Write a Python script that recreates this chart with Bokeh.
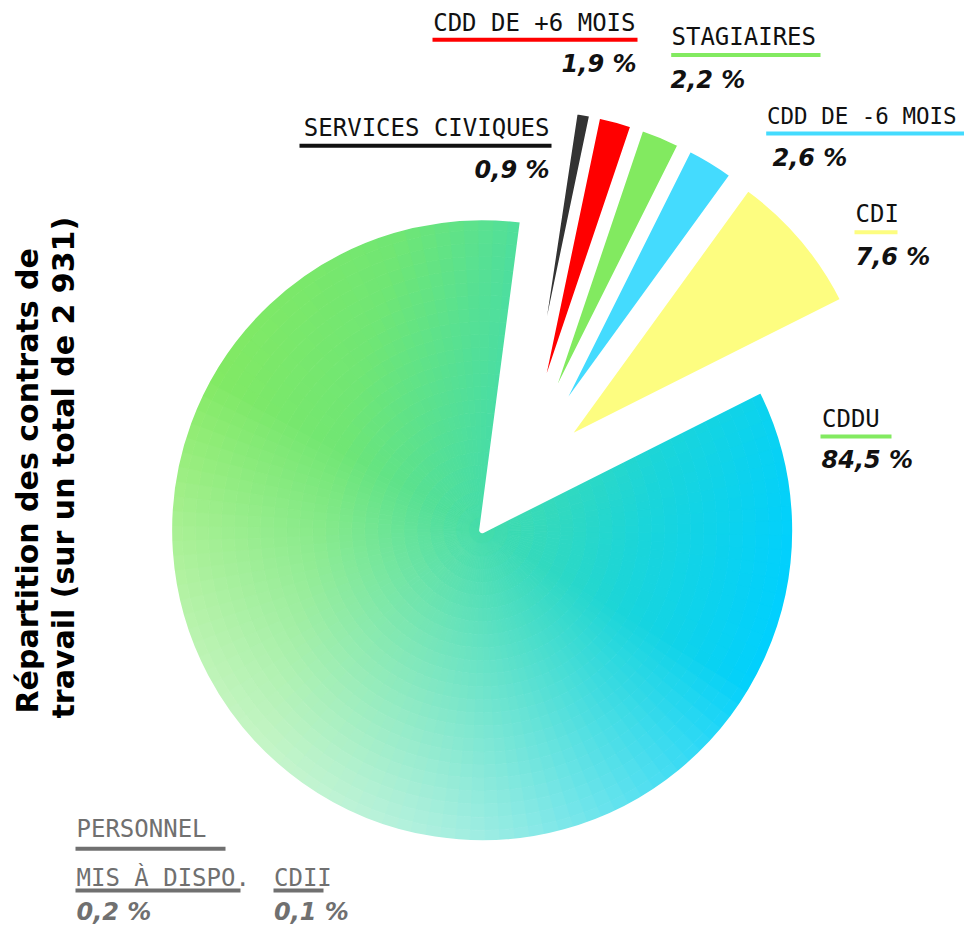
import numpy as np
from bokeh.plotting import figure
from bokeh.models import Label, Range1d
from bokeh.embed import file_html
from bokeh.resources import INLINE

# ---------------- data ----------------
categories = ["CDDU", "Personnel mis à dispo.", "CDII", "Services civiques",
              "CDD de +6 mois", "Stagiaires", "CDD de -6 mois", "CDI"]
values = [84.5, 0.2, 0.1, 0.9, 1.9, 2.2, 2.6, 7.6]
slice_colors = ["#44dcaa", "#777777", "#777777", "#333333",
                "#ff0000", "#82ea60", "#44dbfe", "#fdfd80"]
label_texts = [["CDDU"], ["PERSONNEL", "MIS À DISPO."], ["CDII"], ["SERVICES CIVIQUES"],
               ["CDD DE +6 MOIS"], ["STAGIAIRES"], ["CDD DE -6 MOIS"], ["CDI"]]
underline_colors = ["#82ea60", "#707070", "#707070", "#111111",
                    "#ff0000", "#82ea60", "#44dbfe", "#fdfd80"]
text_colors = ["#111111", "#707070", "#707070", "#111111",
               "#111111", "#111111", "#111111", "#111111"]
title_lines = ["Répartition des contrats de", "travail (sur un total de  2 931)"]

# ---------------- layout (image pixel coordinates) ----------------
W, H = 964, 927
TXT_SHIFT = 9  # compensates the label baseline offset


def X(ix):
    return ix


def Y(iy):
    return H - iy


# (text_x, baseline_y, underline_x0, underline_x1, underline_y), align, value pos, font px
label_layout = [
    ([(821.5, 427, 820, 891, 436)], "left", (821, 468.5), 24),
    ([(76, 837, 75, 225, 848.3), (76, 886, 75, 240, 890)], "left", (76, 920), 24),
    ([(273.5, 886, 273, 323, 890)], "left", (273.5, 920), 24),
    ([(549, 136.5, 299, 551, 145.3)], "right", (549, 178), 24),
    ([(635, 31, 432, 637, 39.3)], "right", (636, 72.5), 24),
    ([(671, 45, 670.7, 820, 54.5)], "left", (670, 88), 24),
    ([(766.5, 124, 765.7, 964, 133)], "left", (772, 166.5), 22.5),
    ([(855, 222.5, 854, 897, 231.7)], "left", (855, 265), 24),
]

cx, cy = X(517), Y(480)
R = 313
explode = 61
start_bearing = 63.3

p = figure(width=W, height=H, x_range=Range1d(0, W), y_range=Range1d(0, H),
           output_backend="svg", toolbar_location=None, min_border=0,
           x_axis_location=None, y_axis_location=None)
p.grid.visible = False
p.outline_line_color = None
p.background_fill_color = "white"
p.border_fill_color = "white"

total = float(sum(values))
spans = [v / total * 360.0 for v in values]
b_starts = start_bearing + np.concatenate([[0], np.cumsum(spans)[:-1]])
b_ends = b_starts + np.array(spans)
mids = np.radians((b_starts + b_ends) / 2)
xs = cx + explode * np.sin(mids)
ys = cy + explode * np.cos(mids)
start_ang = np.radians(90 - b_ends)
end_ang = np.radians(90 - b_starts)

# ---- gradient for the CDDU slice (approximated with small annular wedges) ----
stops_p = np.array([-1.0, -0.5, 0.0, 0.5, 1.0])
stops_c = np.array([[0x84, 0xea, 0x62], [0x70, 0xe6, 0x74], [0x44, 0xdc, 0xaa],
                    [0x1a, 0xd5, 0xda], [0x00, 0xd0, 0xff]], dtype=float)


def grad(u, v):
    pr = np.clip(0.97 * u - 0.25 * v, -1, 1)
    base = np.array([np.interp(pr, stops_p, stops_c[:, k]) for k in range(3)])
    wash = np.clip(0.62 * (-0.5 * u - 0.87 * v), 0, 0.75)
    c = base + (255 - base) * wash
    return "#%02x%02x%02x" % tuple(int(round(t)) for t in c)


n_a, n_r = 110, 24
a_edges = np.linspace(start_ang[0], start_ang[0] + np.radians(spans[0]), n_a + 1)
r_edges = np.linspace(0, R, n_r + 1)
gx, gy, gi, go, gs, ge, gc = [], [], [], [], [], [], []
for i in range(n_a):
    for j in range(n_r):
        am = (a_edges[i] + a_edges[i + 1]) / 2
        rm = (r_edges[j] + r_edges[j + 1]) / 2
        u, v = rm * np.cos(am) / R, rm * np.sin(am) / R
        gx.append(xs[0]); gy.append(ys[0])
        gi.append(r_edges[j]); go.append(r_edges[j + 1])
        gs.append(a_edges[i]); ge.append(a_edges[i + 1] + 0.002)
        gc.append(grad(u, v))
p.annular_wedge(x=gx, y=gy, inner_radius=gi, outer_radius=go, start_angle=gs,
                end_angle=ge, fill_color=gc, line_color=gc, line_width=0.8)
# white separation stroke around CDDU
p.wedge(x=[xs[0]], y=[ys[0]], radius=R, start_angle=[start_ang[0]], end_angle=[end_ang[0]],
        fill_color=None, line_color="white", line_width=6, line_join="round")

# other slices
p.wedge(x=list(xs[1:]), y=list(ys[1:]), radius=R, start_angle=list(start_ang[1:]),
        end_angle=list(end_ang[1:]), fill_color=slice_colors[1:], line_color="white",
        line_width=6, line_join="round")

# ---- labels ----
for k, cat in enumerate(categories):
    lines, align, (vx, vy), fs = label_layout[k]
    for txt, (tx, ty, ux0, ux1, uy) in zip(label_texts[k], lines):
        p.add_layout(Label(x=X(tx), y=Y(ty - TXT_SHIFT), text=txt, text_align=align,
                           text_baseline="alphabetic", text_font="DejaVu Sans Mono",
                           text_font_size=f"{fs}px", text_color=text_colors[k]))
        p.segment(x0=[X(ux0)], y0=[Y(uy)], x1=[X(ux1)], y1=[Y(uy)],
                  line_color=underline_colors[k], line_width=4, line_cap="butt")
    vtxt = ("%.1f" % values[k]).replace(".", ",") + " %"
    p.add_layout(Label(x=X(vx), y=Y(vy - TXT_SHIFT), text=vtxt, text_align=align,
                       text_baseline="alphabetic", text_font="DejaVu Sans",
                       text_font_style="bold italic", text_font_size="24px",
                       text_color=text_colors[k]))

# ---- rotated title ----
title_pos = [(36, 713), (72, 718)]
for txt, (tx, ty) in zip(title_lines, title_pos):
    p.add_layout(Label(x=X(tx - TXT_SHIFT), y=Y(ty), text=txt, angle=np.pi / 2,
                       text_align="left", text_baseline="alphabetic",
                       text_font="DejaVu Sans", text_font_style="bold",
                       text_font_size="30px", text_color="#000000"))

open("out.html", "w").write(file_html(p, INLINE))
